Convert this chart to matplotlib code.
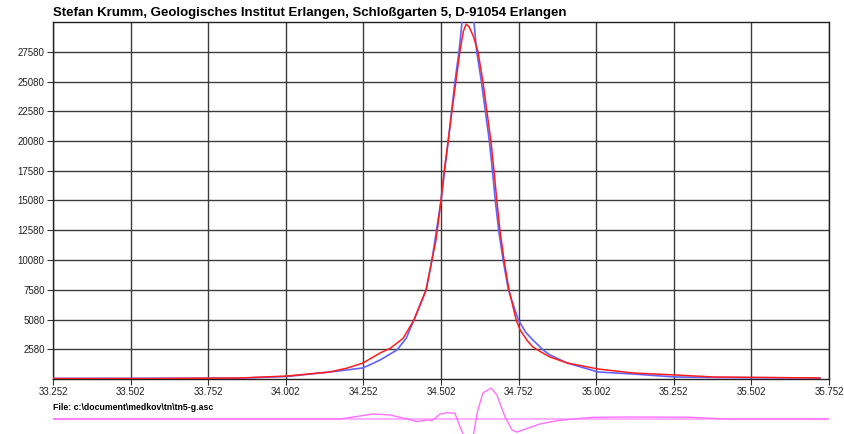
import numpy as np
import matplotlib.pyplot as plt

plt.rcParams['font.family'] = ['Liberation Sans', 'DejaVu Sans']

red_x = [33.252, 33.565, 33.854, 34.006, 34.144, 34.200, 34.251, 34.306, 34.338, 34.380,
         34.415, 34.454, 34.473, 34.486, 34.502, 34.512, 34.525, 34.537, 34.550, 34.563,
         34.574, 34.583, 34.592, 34.606, 34.621, 34.637, 34.650, 34.663, 34.673,
         34.682, 34.692, 34.705, 34.721, 34.744, 34.757, 34.780, 34.798, 34.821, 34.853,
         34.908, 35.008, 35.120, 35.256, 35.378, 35.723]
red_y = [120, 120, 165, 330, 670, 1000, 1430, 2270, 2650, 3500,
         5050, 7570, 10100, 11780, 15060, 17500, 20030, 22560, 25080, 27610,
         29300, 29900, 29700, 28900, 27610, 25080, 22560, 20030, 17500,
         15060, 12540, 10100, 7570, 5050, 4200, 3300, 2770, 2400, 1930,
         1430, 920, 585, 420, 250, 165]

# calculated profile (blue)
blue_x = [33.252, 33.854, 34.006, 34.144, 34.251, 34.306, 34.360, 34.390, 34.415, 34.454,
          34.473, 34.502, 34.525, 34.547, 34.560, 34.570, 34.580, 34.589, 34.598,
          34.608, 34.617, 34.632, 34.645, 34.658, 34.668, 34.677, 34.688, 34.702,
          34.719, 34.751, 34.775, 34.798, 34.831, 34.853, 34.908, 35.008, 35.120, 35.256,
          35.378, 35.723]
blue_y = [130, 150, 290, 670, 1010, 1680, 2520, 3500, 5050, 7570,
          10100, 15060, 20030, 25080, 27610, 30130, 31300, 31600, 31300,
          30130, 27610, 25080, 22560, 20030, 17500, 15060, 12540, 10100,
          7570, 5050, 4000, 3360, 2520, 2100, 1430, 670, 500, 250,
          205, 165]

# difference curve below the plot
diff_x = [33.252, 34.000, 34.177, 34.283, 34.338, 34.392, 34.425, 34.457, 34.473,
          34.499, 34.521, 34.547, 34.563, 34.579, 34.592, 34.605, 34.618, 34.637,
          34.663, 34.682, 34.708, 34.731, 34.747, 34.779, 34.821, 34.876, 34.927,
          34.992, 35.100, 35.300, 35.420, 35.752]
diff_y = [0, 0, 0, 420, 340, 0, -220, -80, -140,
          420, 530, 480, -650, -1600, -2000, -1600, 480, 2190,
          2600, 2020, 200, -930, -1100, -800, -420, -140, 0,
          140, 170, 150, 0, 0]

xticks = [33.252, 33.502, 33.752, 34.002, 34.252, 34.502, 34.752, 35.002, 35.252, 35.502, 35.752]
yticks = [2580, 5080, 7580, 10080, 12580, 15080, 17580, 20080, 22580, 25080, 27580]

fig = plt.figure(figsize=(8.44, 4.34), dpi=100)
ax = fig.add_axes([53 / 844, 1 - 379 / 434, 776 / 844, 357 / 434])

ax.plot(blue_x, blue_y, color='#6262ff', lw=1.2, zorder=3)
ax.plot(red_x, red_y, color='#ff1c1c', lw=1.1, zorder=4)

ax.set_xlim(33.252, 35.752)
ax.set_ylim(80, 30080)
ax.set_xticks(xticks)
ax.set_xticklabels([f"{t:.3f}" for t in xticks])
ax.set_yticks(yticks)
ax.grid(True, color='#3c3c3c', lw=1.0)
ax.set_axisbelow(True)
ax.tick_params(labelsize=7, length=4, width=0.8, color='#333333', pad=2, labelcolor='#222222')
for s in ax.spines.values():
    s.set_color('#222222')
    s.set_linewidth(1.0)

fig.text(53 / 844, 1 - 13 / 434, "Stefan Krumm, Geologisches Institut Erlangen, Schloßgarten 5, D-91054 Erlangen",
         fontsize=9.5, fontweight='bold', va='center', ha='left')
fig.text(53 / 844, 1 - 407 / 434, "File: c:\\document\\medkov\\tn\\tn5-g.asc",
         fontsize=6.3, fontweight='bold', va='center', ha='left')

# difference strip
ax2 = fig.add_axes([53 / 844, 0, 776 / 844, 49 / 434])
ax2.axhline(0, color='#ffb0ff', lw=1.5)
ax2.plot(diff_x, diff_y, color='#ff70ff', lw=1.0)
ax2.set_xlim(33.252, 35.752)
ax2.set_ylim(-1263, 2862)
ax2.axis('off')

fig.savefig("out.png", dpi=100)
